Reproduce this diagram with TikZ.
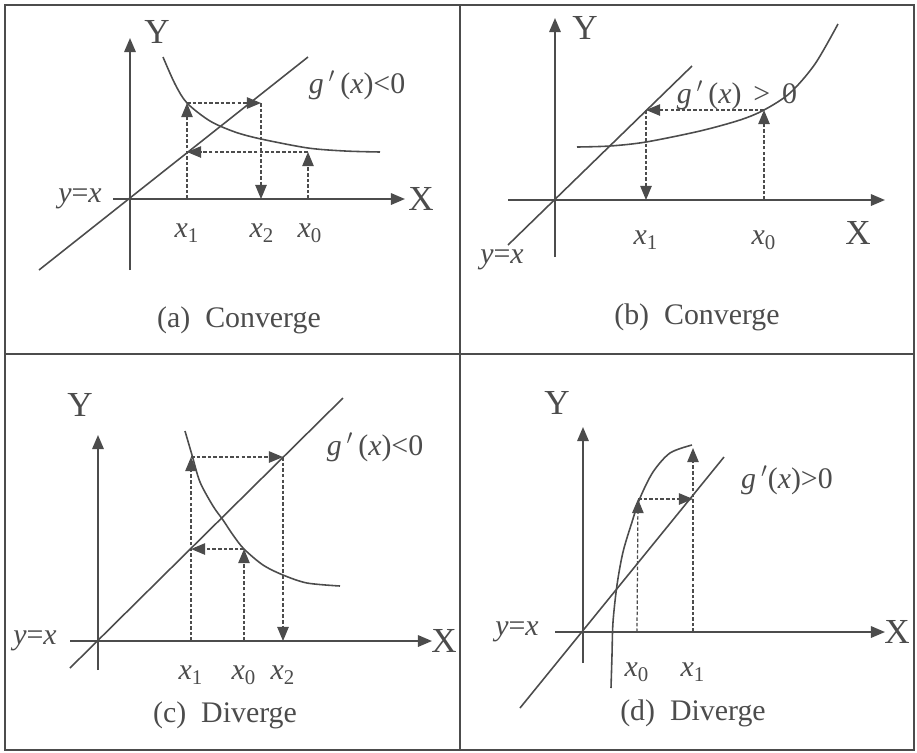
\documentclass[tikz,border=0pt]{standalone}
\usepackage{fontspec}
\setmainfont{Liberation Serif}
\usetikzlibrary{arrows.meta,calc}
\definecolor{ink}{gray}{0.3}
\newcommand{\xsub}[1]{\textit{x}\textsubscript{#1}}
\newcommand{\gpr}{\textit{g}\,$'$\,}
\tikzset{
  headtip/.tip={Triangle[length=8pt,width=6.5pt]},
  axis/.style={draw=ink, line width=1.1pt, -headtip},
  line/.style={draw=ink, line width=0.9pt},
  curve/.style={draw=ink, line width=0.9pt},
  hop/.style={draw=ink, line width=0.7pt, dash pattern=on 2pt off 1.2pt, -headtip},
  lbl/.style={text=ink, font=\fontsize{17}{19}\selectfont},
  axlbl/.style={text=ink, font=\fontsize{20}{22}\selectfont},
  captext/.style={text=ink, font=\fontsize{17}{19}\selectfont}
}
\begin{document}
\begin{tikzpicture}[x=0.02cm, y=-0.02cm]
        \useasboundingbox(0,0)rectangle(917,752);
        % frame
        \path[draw=ink, line width=1pt](5,5)rectangle(914,750);
        \path[draw=ink, line width=1pt](460,5)to(460,750);
        \path[draw=ink, line width=1pt](5,354)to(914,354);
        % (a)
        \coordinate(aO)at(130,199);
        \coordinate(aXs)at(113,199);
        \coordinate(aXt)at(405,199);
        \coordinate(aYs)at(130,270);
        \coordinate(aYt)at(130,38);
        \path[axis](aXs)to(aXt);
        \path[axis](aYs)to(aYt);
        \node[axlbl](aX)at(421,199){X};
        \node[axlbl](aY)at(157,32){Y};
        \coordinate(aL1)at(39,270);
        \coordinate(aL2)at(308,57);
        \path[line](aL1)to(aL2);
        \node[lbl](aYX)at(80,199){\textit{y}=\textit{x}};
        \path[curve]plot[smooth]coordinates{(163,57)(175,84)(187,103)(210,121)(235,132)(261,139)(308,148)(345,151)(380,152)};
        \node[lbl](aG)at(357,85){\gpr(\textit{x})<0};
        \coordinate(ax1)at(187,199);
        \coordinate(ax2)at(261,199);
        \coordinate(ax0)at(308,199);
        \coordinate(ag0)at(308,152);
        \coordinate(al1)at(187,152);
        \coordinate(ag1)at(187,103);
        \coordinate(al2)at(261,103);
        \path[hop](ax0)to(ag0);
        \path[hop](ag0)to(al1);
        \path[hop](ax1)to(ag1);
        \path[hop](ag1)to(al2);
        \path[hop](al2)to(ax2);
        \node[lbl](ax1l)at(187,233){\xsub{1}};
        \node[lbl](ax2l)at(262,233){\xsub{2}};
        \node[lbl](ax0l)at(310,233){\xsub{0}};
        \node[captext](acap)at(239,320){(a)\ \ Converge};
        % (b)
        \coordinate(bO)at(555,200);
        \coordinate(bXs)at(508,200);
        \coordinate(bXt)at(885,200);
        \coordinate(bYs)at(555,257);
        \coordinate(bYt)at(555,18);
        \path[axis](bXs)to(bXt);
        \path[axis](bYs)to(bYt);
        \node[axlbl](bX)at(858,233){X};
        \node[axlbl](bY)at(585,28){Y};
        \coordinate(bL1)at(508,245);
        \coordinate(bL2)at(692,66);
        \path[line](bL1)to(bL2);
        \node[lbl](bYX)at(502,260){\textit{y}=\textit{x}};
        \path[curve]plot[smooth]coordinates{(577,147)(610,146)(646,142)(700,131)(740,120)(764,110)(790,93)(815,64)(838,24)};
        \node[lbl](bG)at(737,95){\gpr(\textit{x})\hspace{0.4em}>\hspace{0.4em}0};
        \coordinate(bx1)at(646,200);
        \coordinate(bx0)at(764,200);
        \coordinate(bg0)at(764,110);
        \coordinate(bl1)at(646,110);
        \path[hop](bx0)to(bg0);
        \path[hop](bg0)to(bl1);
        \path[hop](bl1)to(bx1);
        \node[lbl](bx1l)at(646,240){\xsub{1}};
        \node[lbl](bx0l)at(764,240){\xsub{0}};
        \node[captext](bcap)at(697,317){(b)\ \ Converge};
        % (c)
        \coordinate(cO)at(98,641);
        \coordinate(cXs)at(70,641);
        \coordinate(cXt)at(432,641);
        \coordinate(cYs)at(98,670);
        \coordinate(cYt)at(98,435);
        \path[axis](cXs)to(cXt);
        \path[axis](cYs)to(cYt);
        \node[axlbl](cX)at(444,641){X};
        \node[axlbl](cY)at(80,405){Y};
        \coordinate(cL1)at(70,668);
        \coordinate(cL2)at(343,398);
        \path[line](cL1)to(cL2);
        \node[lbl](cYX)at(35,641){\textit{y}=\textit{x}};
        \path[curve]plot[smooth]coordinates{(185,431)(192,455)(200,482)(213,506)(223,520)(233,535)(244,549)(263,565)(283,575)(307,583)(340,586)};
        \node[lbl](cG)at(375,447){\gpr(\textit{x})<0};
        \coordinate(cx1)at(191,641);
        \coordinate(cx0)at(244,641);
        \coordinate(cx2)at(283,641);
        \coordinate(cg0)at(244,549);
        \coordinate(cl1)at(191,549);
        \coordinate(cg1)at(191,457);
        \coordinate(cl2)at(283,457);
        \path[hop](cx0)to(cg0);
        \path[hop](cg0)to(cl1);
        \path[hop](cx1)to(cg1);
        \path[hop](cg1)to(cl2);
        \path[hop](cl2)to(cx2);
        \node[lbl](cx1l)at(191,675){\xsub{1}};
        \node[lbl](cx0l)at(244,675){\xsub{0}};
        \node[lbl](cx2l)at(283,675){\xsub{2}};
        \node[captext](ccap)at(225,715){(c)\ \ Diverge};
        % (d)
        \coordinate(dO)at(583,632);
        \coordinate(dXs)at(555,632);
        \coordinate(dXt)at(885,632);
        \coordinate(dYs)at(583,663);
        \coordinate(dYt)at(583,427);
        \path[axis](dXs)to(dXt);
        \path[axis](dYs)to(dYt);
        \node[axlbl](dX)at(897,632){X};
        \node[axlbl](dY)at(557,403){Y};
        \coordinate(dL1)at(520,708);
        \coordinate(dL2)at(724,457);
        \path[line](dL1)to(dL2);
        \node[lbl](dYX)at(517,632){\textit{y}=\textit{x}};
        \path[curve]plot[smooth]coordinates{(611,688)(612,655)(613,622)(617,585)(623,552)(632,522)(640,498)(653,472)(670,453)(692,445)};
        \node[lbl](dG)at(787,480){\textit{g}\,$'$(\textit{x})>0};
        \coordinate(dx0)at(637,632);
        \coordinate(dx1)at(693,632);
        \coordinate(dg0)at(638,499);
        \coordinate(dl1)at(693,499);
        \coordinate(dg1)at(693,448);
        \path[hop](dx0)to(dg0);
        \path[hop](dg0)to(dl1);
        \path[hop](dx1)to(dg1);
        \node[lbl](dx0l)at(637,672){\xsub{0}};
        \node[lbl](dx1l)at(693,672){\xsub{1}};
        \node[captext](dcap)at(693,713){(d)\ \ Diverge};
    \end{tikzpicture}
\end{document}
